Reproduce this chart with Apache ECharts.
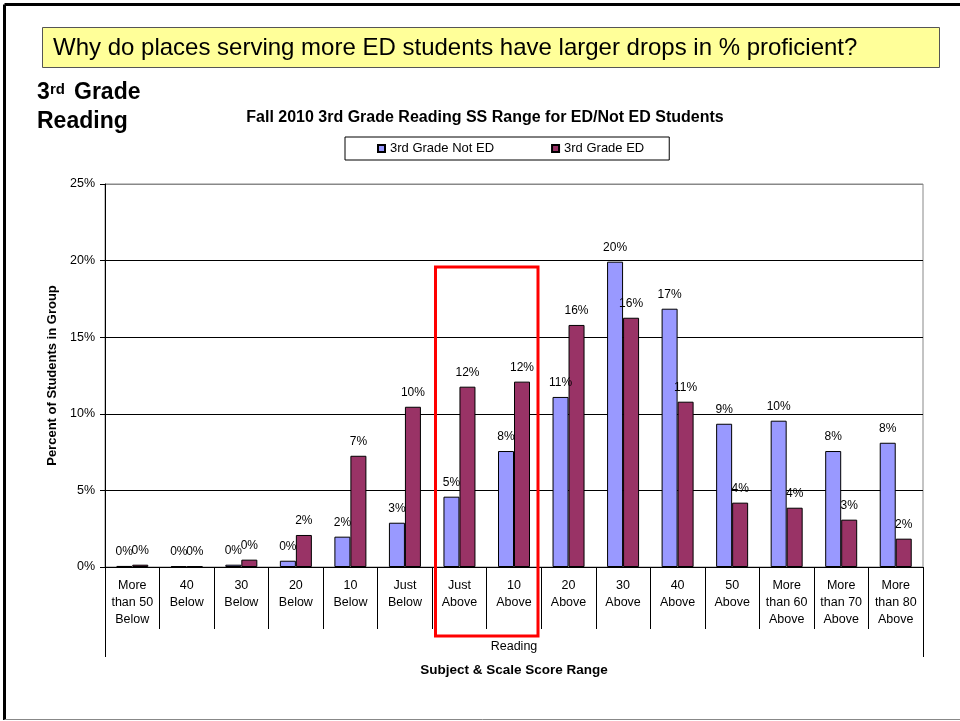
<!DOCTYPE html>
<html>
<head>
<meta charset="utf-8">
<script src="https://cdn.jsdelivr.net/npm/echarts@6/dist/echarts.min.js"></script>
<style>
  html, body { margin: 0; padding: 0; background: #fff; }
  #main { width: 960px; height: 721px; }
</style>
</head>
<body>
<div id="main"></div>
<script>
// score ranges (x axis)
var categories = ['More\nthan 50\nBelow', '40\nBelow', '30\nBelow', '20\nBelow', '10\nBelow', 'Just\nBelow',
  'Just\nAbove', '10\nAbove', '20\nAbove', '30\nAbove', '40\nAbove', '50\nAbove',
  'More\nthan 60\nAbove', 'More\nthan 70\nAbove', 'More\nthan 80\nAbove']
var groupLabel = ['Reading']
// percent of students in group
var notED = [0.07, 0.05, 0.15, 0.41, 1.98, 2.89, 4.59, 7.57, 11.1, 19.93, 16.86, 9.35, 9.55, 7.57, 8.11]
var ED = [0.15, 0.05, 0.48, 2.09, 7.26, 10.46, 11.77, 12.1, 15.8, 16.27, 10.79, 4.2, 3.87, 3.09, 1.85]
var seriesNames = ['3rd Grade Not ED', '3rd Grade ED']

var font = '"Liberation Sans", Arial, sans-serif'
var myChart = echarts.init(document.getElementById('main'))

function pct(p) { return Math.round(p.value) + '%' }

myChart.setOption({
  backgroundColor: '#fff',
  textStyle: { fontFamily: font, color: '#000' },
  title: {
    text: 'Fall 2010 3rd Grade Reading SS Range for ED/Not ED Students',
    left: 480, top: 105, textAlign: 'center',
    textStyle: { fontSize: 16, fontWeight: 'bold', color: '#000', fontFamily: font }
  },
  legend: {
    data: seriesNames,
    left: 345, top: 137,
    padding: [5, 25, 5, 32],
    itemWidth: 7, itemHeight: 7, itemGap: 57,
    borderColor: '#000', borderWidth: 1,
    icon: 'rect',
    textStyle: { fontSize: 13, color: '#000', fontFamily: font }
  },
  grid: {
    left: 105, right: 37, top: 184, bottom: 154,
    show: true, borderColor: '#888', borderWidth: 1
  },
  xAxis: [{
    type: 'category',
    data: categories,
    position: 'bottom',
    axisLine: { show: true, lineStyle: { color: '#000', width: 1 } },
    axisTick: { show: true, length: 62, interval: 0, alignWithLabel: false, lineStyle: { color: '#000', width: 1 } },
    axisLabel: { interval: 0, margin: 10, fontSize: 12.5, lineHeight: 17, color: '#000', fontFamily: font }
  }, {
    type: 'category',
    data: groupLabel,
    position: 'bottom',
    axisLine: { show: false },
    axisTick: { show: true, length: 90, lineStyle: { color: '#000', width: 1 } },
    axisLabel: { margin: 73, fontSize: 12.5, color: '#000', fontFamily: font },
    name: 'Subject & Scale Score Range',
    nameLocation: 'middle',
    nameGap: 96,
    nameTextStyle: { fontSize: 13.5, fontWeight: 'bold', color: '#000', fontFamily: font }
  }],
  yAxis: {
    type: 'value',
    min: 0, max: 25, interval: 5,
    axisLine: { show: true, lineStyle: { color: '#000' } },
    axisTick: { show: true, length: 5, lineStyle: { color: '#000' } },
    axisLabel: { formatter: '{value}%', margin: 10, fontSize: 12.5, color: '#000', fontFamily: font },
    splitLine: { show: true, lineStyle: { color: ['#000', '#000', '#000', '#000', '#000', '#888'], width: 1 } },
    name: 'Percent of Students in Group',
    nameLocation: 'middle',
    nameGap: 44,
    nameTextStyle: { fontSize: 13, fontWeight: 'bold', color: '#000', fontFamily: font }
  },
  series: [{
    name: seriesNames[0],
    type: 'bar',
    data: notED,
    barWidth: 16,
    barGap: '0%',
    itemStyle: { color: '#9999FF', borderColor: '#000', borderWidth: 1 },
    label: { show: true, position: 'top', distance: 8, formatter: pct, fontSize: 12, color: '#000', fontFamily: font }
  }, {
    name: seriesNames[1],
    type: 'bar',
    data: ED,
    barWidth: 16,
    barGap: '0%',
    itemStyle: { color: '#993366', borderColor: '#000', borderWidth: 1 },
    label: { show: true, position: 'top', distance: 8, formatter: pct, fontSize: 12, color: '#000', fontFamily: font }
  }],
  graphic: [
    // page frame
    { type: 'line', shape: { x1: 4.5, y1: 4.5, x2: 960, y2: 4.5 }, style: { stroke: '#000', lineWidth: 3 } },
    { type: 'line', shape: { x1: 4.5, y1: 4.5, x2: 4.5, y2: 720 }, style: { stroke: '#000', lineWidth: 3 } },
    { type: 'line', shape: { x1: 4.5, y1: 719.5, x2: 960, y2: 719.5 }, style: { stroke: '#888', lineWidth: 1 } },
    // question banner
    { type: 'rect', shape: { x: 42.5, y: 27.5, width: 897, height: 40 },
      style: { fill: '#FFFF99', stroke: '#555', lineWidth: 1 } },
    { type: 'text', x: 53, y: 48,
      style: { text: 'Why do places serving more ED students have larger drops in % proficient?',
        font: '24px ' + font, fill: '#000', textVerticalAlign: 'middle' } },
    // side heading
    { type: 'text', x: 37, y: 104, style: { text: '3', font: 'bold 23px ' + font, fill: '#000', textVerticalAlign: 'bottom' } },
    { type: 'text', x: 50, y: 97, style: { text: 'rd', font: 'bold 15px ' + font, fill: '#000', textVerticalAlign: 'bottom' } },
    { type: 'text', x: 74, y: 104, style: { text: 'Grade', font: 'bold 23px ' + font, fill: '#000', textVerticalAlign: 'bottom' } },
    { type: 'text', x: 37, y: 133, style: { text: 'Reading', font: 'bold 23px ' + font, fill: '#000', textVerticalAlign: 'bottom' } },
    // highlight box
    { type: 'rect', z: 100, shape: { x: 435.5, y: 267, width: 102.5, height: 369 },
      style: { fill: 'none', stroke: '#FF0000', lineWidth: 3 } }
  ]
})
window.onresize = function () { myChart.resize() }
</script>
</body>
</html>
